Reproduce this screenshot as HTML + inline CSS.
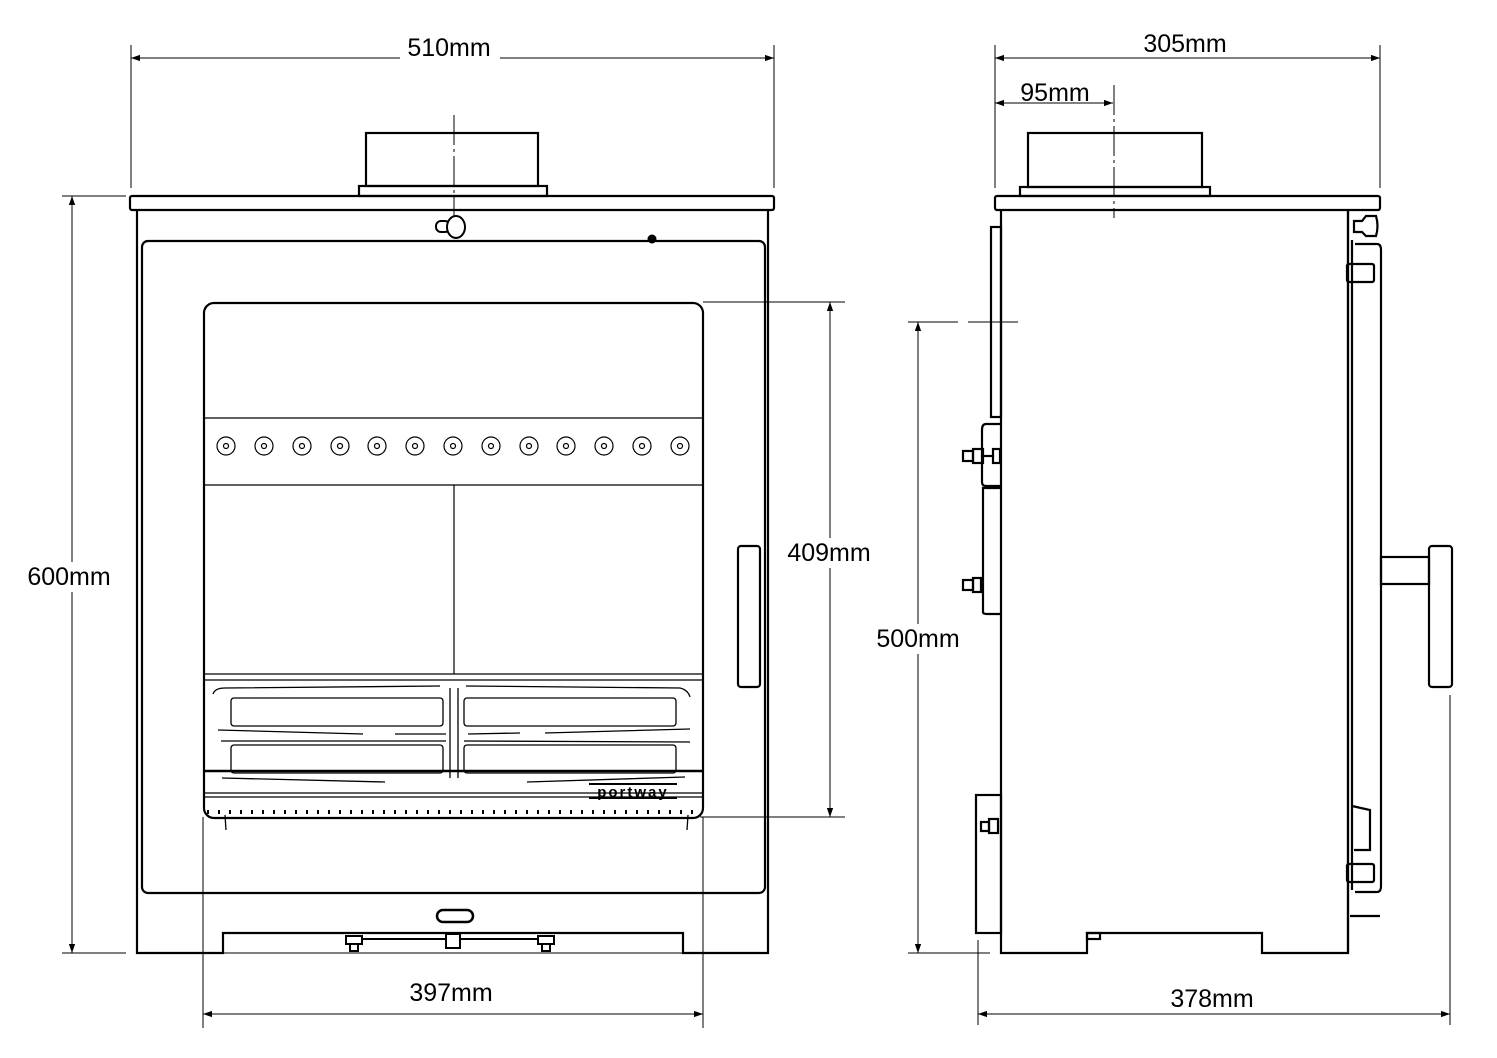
<!DOCTYPE html>
<html><head><meta charset="utf-8"><style>
html,body{margin:0;padding:0;background:#fff;}
svg{display:block;}
text{font-family:"Liberation Sans",sans-serif;font-size:25px;fill:#000;}
</style></head><body>
<svg width="1497" height="1058" viewBox="0 0 1497 1058" xmlns="http://www.w3.org/2000/svg">
<defs>
<marker id="a" viewBox="0 0 10 10" refX="10" refY="5" markerWidth="9" markerHeight="9" orient="auto-start-reverse" markerUnits="userSpaceOnUse"><path d="M0,1.5 L10,5 L0,8.5 Z" fill="#000"/></marker>
</defs>
<g fill="none" stroke="#000">
<g stroke-width="1">
<line x1="131" y1="45" x2="131" y2="188"/><line x1="774" y1="45" x2="774" y2="188"/>
<line x1="131" y1="58" x2="774" y2="58" marker-start="url(#a)" marker-end="url(#a)"/>
<line x1="62" y1="196" x2="126" y2="196"/><line x1="62" y1="953" x2="126" y2="953"/>
<line x1="72" y1="196" x2="72" y2="953" marker-start="url(#a)" marker-end="url(#a)"/>
<line x1="703" y1="302" x2="845" y2="302"/><line x1="700" y1="817" x2="845" y2="817"/>
<line x1="830" y1="302" x2="830" y2="817" marker-start="url(#a)" marker-end="url(#a)"/>
<line x1="203" y1="817" x2="203" y2="1028"/><line x1="703" y1="817" x2="703" y2="1028"/>
<line x1="203" y1="1014" x2="703" y2="1014" marker-start="url(#a)" marker-end="url(#a)"/>
<line x1="454" y1="115" x2="454" y2="228" stroke-dasharray="30,4,3,4"/>
</g>
<g stroke-width="2.2">
<rect x="366" y="133" width="172" height="53"/>
<rect x="359" y="186" width="188" height="10"/>
<rect x="130" y="196" width="644" height="14" rx="2"/>
<path d="M137,210 V953 H223 V933 H683 V953 H768 V210"/>
<rect x="142" y="241" width="623" height="652" rx="6"/>
<rect x="204" y="303" width="499" height="515" rx="10"/>
<line x1="137" y1="953" x2="768" y2="953" stroke-width="1"/>
</g>
<g stroke-width="1.2">
<line x1="204" y1="418" x2="703" y2="418"/>
<line x1="204" y1="485" x2="703" y2="485"/>
<line x1="454" y1="485" x2="454" y2="674"/>
<line x1="204" y1="674" x2="703" y2="674"/>
<line x1="204" y1="680" x2="703" y2="680"/>
<line x1="204" y1="793" x2="703" y2="793"/>
<line x1="204" y1="797" x2="703" y2="797"/>
</g>
<g stroke-width="1.2">
<circle cx="226" cy="446" r="9"/><circle cx="226" cy="446" r="2.5"/>
<circle cx="264" cy="446" r="9"/><circle cx="264" cy="446" r="2.5"/>
<circle cx="302" cy="446" r="9"/><circle cx="302" cy="446" r="2.5"/>
<circle cx="340" cy="446" r="9"/><circle cx="340" cy="446" r="2.5"/>
<circle cx="377" cy="446" r="9"/><circle cx="377" cy="446" r="2.5"/>
<circle cx="415" cy="446" r="9"/><circle cx="415" cy="446" r="2.5"/>
<circle cx="453" cy="446" r="9"/><circle cx="453" cy="446" r="2.5"/>
<circle cx="491" cy="446" r="9"/><circle cx="491" cy="446" r="2.5"/>
<circle cx="529" cy="446" r="9"/><circle cx="529" cy="446" r="2.5"/>
<circle cx="566" cy="446" r="9"/><circle cx="566" cy="446" r="2.5"/>
<circle cx="604" cy="446" r="9"/><circle cx="604" cy="446" r="2.5"/>
<circle cx="642" cy="446" r="9"/><circle cx="642" cy="446" r="2.5"/>
<circle cx="680" cy="446" r="9"/><circle cx="680" cy="446" r="2.5"/>
</g>
<g stroke-width="1.3">
<rect x="231" y="698" width="212" height="28" rx="3"/>
<rect x="464" y="698" width="212" height="28" rx="3"/>
<rect x="231" y="745" width="212" height="28" rx="3"/>
<rect x="464" y="745" width="212" height="28" rx="3"/>
<path d="M213,694 Q215,688 225,688 L440,686 M466,686 L680,688 Q688,690 690,697"/>
<path d="M218,730 L363,734 M395,734 L446,734 M468,734 L520,733 M545,733 L690,729"/>
<path d="M221,741 L446,741 M464,741 L690,742"/>
<path d="M222,778 L385,782 M527,782 L685,777"/>
<line x1="450" y1="688" x2="450" y2="778"/><line x1="458" y1="688" x2="458" y2="778"/>
<path d="M207,812 H700" stroke-dasharray="2,9" stroke-width="4"/>
<line x1="225" y1="815" x2="226" y2="830"/><line x1="688" y1="815" x2="687" y2="830"/>
</g>
<line x1="204" y1="771" x2="703" y2="771" stroke-width="2.5"/>
<line x1="589" y1="784" x2="677" y2="784" stroke-width="2"/>
<line x1="589" y1="798" x2="677" y2="798" stroke-width="2"/>
<rect x="738" y="546" width="22" height="141" rx="3" stroke-width="2.2"/>
<rect x="436" y="221" width="14" height="11" rx="5" stroke-width="2"/>
<ellipse cx="456" cy="227" rx="9" ry="11" stroke-width="2" fill="#fff"/>
<circle cx="652" cy="239" r="4" fill="#000"/>
<rect x="437" y="910" width="36" height="12" rx="6" stroke-width="2.5"/>
<line x1="352" y1="939" x2="546" y2="939" stroke-width="2"/>
<g stroke-width="2" fill="#fff">
<rect x="346" y="936" width="16" height="8"/><rect x="350" y="944" width="8" height="7"/>
<rect x="446" y="934" width="14" height="14"/>
<rect x="538" y="936" width="16" height="8"/><rect x="542" y="944" width="8" height="7"/>
</g>

<g stroke-width="1">
<line x1="995" y1="45" x2="995" y2="188"/><line x1="1380" y1="45" x2="1380" y2="188"/>
<line x1="995" y1="58" x2="1380" y2="58" marker-start="url(#a)" marker-end="url(#a)"/>
<line x1="995" y1="103" x2="1113" y2="103" marker-start="url(#a)" marker-end="url(#a)"/>
<line x1="1114" y1="85" x2="1114" y2="218" stroke-dasharray="30,4,3,4"/>
<line x1="908" y1="322" x2="1020" y2="322" stroke-dasharray="50,10"/>
<line x1="908" y1="953" x2="990" y2="953"/>
<line x1="918" y1="322" x2="918" y2="953" marker-start="url(#a)" marker-end="url(#a)"/>
<line x1="978" y1="940" x2="978" y2="1025"/><line x1="1450" y1="695" x2="1450" y2="1025"/>
<line x1="978" y1="1014" x2="1450" y2="1014" marker-start="url(#a)" marker-end="url(#a)"/>
</g>
<g stroke-width="2.2">
<rect x="1028" y="133" width="174" height="54"/>
<rect x="1020" y="187" width="190" height="9"/>
<rect x="995" y="196" width="385" height="14" rx="2"/>
<path d="M1001,210 V953 H1087 V933 H1262 V953 H1348 V210"/>
<line x1="1348" y1="210" x2="1348" y2="953"/>
<line x1="1352" y1="240" x2="1352" y2="890"/>
<path d="M1355,244 H1377 Q1381,244 1381,250 V886 Q1381,892 1377,892 H1355"/>
<rect x="1347" y="264" width="27" height="18" rx="2"/>
<path d="M1354,221 H1362 L1366,216 H1376 Q1379,226 1376,236 H1366 L1362,232 H1354 Z"/>
<rect x="1347" y="864" width="27" height="18" rx="2"/>
<path d="M1352,806 L1370,810 V850 H1354"/>
<line x1="1350" y1="916" x2="1380" y2="916"/>
<rect x="1381" y="557" width="48" height="27"/>
<rect x="1429" y="546" width="23" height="141" rx="3"/>
<rect x="991" y="227" width="10" height="190"/>
<path d="M1001,424 H986 Q982,424 982,430 V482 Q982,486 986,486 H1001"/>
<path d="M1001,488 H983 V612 Q983,614 987,614 H1001"/>
<rect x="976" y="795" width="25" height="138"/>
<rect x="963" y="451" width="10" height="10"/><rect x="973" y="449" width="10" height="14"/>
<rect x="993" y="449" width="7" height="14"/><line x1="983" y1="456" x2="993" y2="456"/>
<rect x="963" y="580" width="10" height="10"/><rect x="973" y="578" width="8" height="14"/>
<rect x="981" y="822" width="8" height="9"/><rect x="989" y="819" width="9" height="14"/>
<rect x="1087" y="933" width="13" height="6"/>
</g>
</g>
<g>
<rect x="400" y="34" width="100" height="26" fill="#fff"/>
<text x="449" y="56" text-anchor="middle">510mm</text>
<rect x="18" y="562" width="104" height="30" fill="#fff"/>
<text x="69" y="585" text-anchor="middle">600mm</text>
<rect x="778" y="538" width="104" height="30" fill="#fff"/>
<text x="829" y="561" text-anchor="middle">409mm</text>
<text x="451" y="1001" text-anchor="middle">397mm</text>
<rect x="1135" y="34" width="100" height="22" fill="#fff"/>
<text x="1185" y="52" text-anchor="middle">305mm</text>
<text x="1055" y="101" text-anchor="middle">95mm</text>
<rect x="866" y="624" width="104" height="30" fill="#fff"/>
<text x="918" y="647" text-anchor="middle">500mm</text>
<text x="1212" y="1007" text-anchor="middle">378mm</text>
<text x="633" y="797" text-anchor="middle" style="font-size:15px;font-weight:bold;letter-spacing:2px">portway</text>
</g>
</svg>
</body></html>
